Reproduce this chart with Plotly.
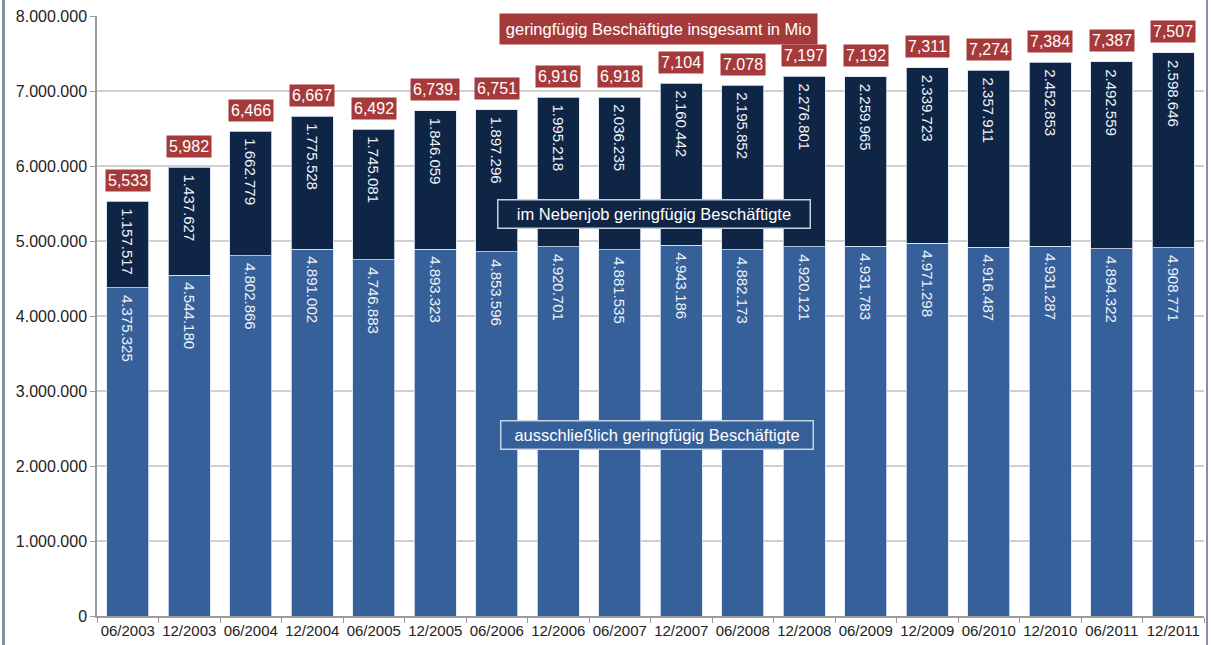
import plotly.graph_objects as go

categories = ["06/2003", "12/2003", "06/2004", "12/2004", "06/2005", "12/2005",
              "06/2006", "12/2006", "06/2007", "12/2007", "06/2008", "12/2008",
              "06/2009", "12/2009", "06/2010", "12/2010", "06/2011", "12/2011"]
ausschliesslich = [4375325, 4544180, 4802866, 4891002, 4746883, 4893323,
                   4853596, 4920701, 4881535, 4943186, 4882173, 4920121,
                   4931783, 4971298, 4916487, 4931287, 4894322, 4908771]
nebenjob = [1157517, 1437627, 1662779, 1775528, 1745081, 1846059,
            1897296, 1995218, 2036235, 2160442, 2195852, 2276801,
            2259965, 2339723, 2357911, 2452853, 2492559, 2598646]
total_labels = ["5,533", "5,982", "6,466", "6,667", "6,492", "6,739.",
                "6,751", "6,916", "6,918", "7,104", "7.078", "7,197",
                "7,192", "7,311", "7,274", "7,384", "7,387", "7,507"]

BLUE = "#36609a"
NAVY = "#0f2545"
RED = "#a63a3a"
FONT = "Liberation Sans, Arial, sans-serif"


def de(v):
    return "\u00a0" + f"{v:,}".replace(",", ".")


fig = go.Figure()
fig.add_trace(go.Bar(
    x=categories, y=ausschliesslich, name="ausschließlich geringfügig Beschäftigte",
    marker=dict(color=BLUE, line=dict(color="rgba(220,230,245,0.8)", width=1)),
    text=[de(v) for v in ausschliesslich], textposition="inside",
    insidetextanchor="end", textangle=90,
    textfont=dict(color="#eef2f8", size=15, family=FONT),
))
fig.add_trace(go.Bar(
    x=categories, y=nebenjob, name="im Nebenjob geringfügig Beschäftigte",
    marker=dict(color=NAVY, line=dict(color="rgba(220,230,245,0.8)", width=1)),
    text=[de(v) for v in nebenjob], textposition="inside",
    insidetextanchor="end", textangle=90,
    textfont=dict(color="#eef2f8", size=15, family=FONT),
))

annotations = []
for c, a, n, lab in zip(categories, ausschliesslich, nebenjob, total_labels):
    annotations.append(dict(
        x=c, y=a + n, xref="x", yref="y", text=lab, showarrow=False,
        yanchor="middle", yshift=21, bgcolor=RED, borderpad=2,
        font=dict(color="white", size=16, family=FONT),
    ))

annotations += [
    dict(x=0.507, y=7830000, xref="paper", yref="y",
         text="geringfügig Beschäftigte insgesamt in Mio", showarrow=False,
         width=307, height=20, bgcolor=RED, borderpad=5,
         font=dict(color="white", size=16.5, family=FONT)),
    dict(x=0.503, y=5360000, xref="paper", yref="y",
         text="im Nebenjob geringfügig Beschäftigte", showarrow=False,
         width=303, height=19, bgcolor=NAVY, bordercolor="#c8d0dc",
         borderwidth=1.5, borderpad=4,
         font=dict(color="white", size=16.5, family=FONT)),
    dict(x=0.506, y=2410000, xref="paper", yref="y",
         text="ausschließlich geringfügig Beschäftigte", showarrow=False,
         width=303, height=19, bgcolor=BLUE, bordercolor="#c8d4e6",
         borderwidth=1.5, borderpad=4,
         font=dict(color="white", size=16.5, family=FONT)),
]

shapes = [
    dict(type="line", xref="paper", yref="paper", x0=-0.0845, x1=-0.0845,
         y0=-0.06, y1=1.03, line=dict(color="#8090a4", width=3)),
    dict(type="line", xref="paper", yref="paper", x0=1.0027, x1=1.0027,
         y0=-0.06, y1=1.03, line=dict(color="#8090a4", width=2)),
]

fig.update_layout(
    barmode="stack", bargap=0.32, showlegend=False,
    width=1211, height=645,
    margin=dict(l=97, r=7, t=16, b=29, autoexpand=False),
    paper_bgcolor="white", plot_bgcolor="white",
    separators=",.",
    font=dict(family=FONT, color="#222222"),
    annotations=annotations, shapes=shapes,
)
fig.update_xaxes(
    showline=True, linecolor="#9a9a9a", linewidth=1.5,
    ticks="outside", tickson="boundaries", ticklen=5, tickcolor="#9a9a9a",
    tickangle=0, automargin=False,
    tickfont=dict(size=15, family=FONT, color="#222222"),
    showgrid=False,
)
fig.update_yaxes(
    range=[0, 8000000], dtick=1000000, tickformat=",d",
    showline=True, linecolor="#9a9a9a", linewidth=1.5,
    ticks="outside", ticklen=5, tickcolor="#9a9a9a", automargin=False,
    gridcolor="#cfcfcf", gridwidth=1.5,
    tickfont=dict(size=16, family=FONT, color="#222222"),
)

fig.write_html("out.html")
